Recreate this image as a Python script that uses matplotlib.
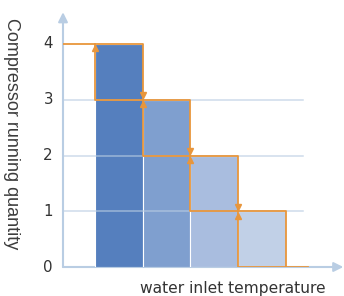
import matplotlib
matplotlib.use("Agg")
import matplotlib.pyplot as plt

# compressor count per temperature band (high -> low)
levels = [4, 3, 2, 1]
bar_colors = ["#557FBE", "#7F9FCF", "#A9BDDF", "#C1D0E7"]
y_ticks = [0, 1, 2, 3, 4]
grid_levels = [1, 2, 3]
ylabel = "Compressor running quantity"
xlabel = "water inlet temperature"

orange = "#E8963C"
axis_blue = "#B9CDE3"
text_col = "#333333"

plt.rcParams["font.family"] = ["DejaVu Sans"]

fig = plt.figure(figsize=(3.44, 2.96), dpi=100)
ax = fig.add_axes([63 / 344, 29 / 296, 1 - 63 / 344, 267 / 296])
ax.set_xlim(0, 281 / 47.75)
ax.set_ylim(0, 267 / 55.75)
ax.axis("off")

x0 = 0.67   # left edge of first bar
w = 1.0
edges = [x0 + i * w for i in range(len(levels) + 1)]

ax.bar(edges[:-1], levels, width=w, align="edge", color=bar_colors,
       edgecolor="white", linewidth=0.8, zorder=2)

# grid lines
for g in grid_levels:
    ax.plot([0, 5.03], [g, g], color=axis_blue, lw=1.1, alpha=0.7, zorder=3)

# descending staircase (arrows down)
dx = [0]
dy = [levels[0]]
for i, lv in enumerate(levels):
    dx += [edges[i + 1], edges[i + 1]]
    dy += [lv, lv - 1]
ax.plot(dx, dy, color=orange, lw=1.3, zorder=4)

# ascending staircase (arrows up)
ux = [5.13]
uy = [0]
for i in range(len(levels) - 1, -1, -1):
    ux += [edges[i], edges[i]]
    uy += [levels[i] - 1, levels[i]]
ax.plot(ux, uy, color=orange, lw=1.3, zorder=4)

off = 0.08
for i, lv in enumerate(levels):
    ax.plot(edges[i], lv - off, marker="^", ms=5, color=orange, zorder=5)
for i, lv in enumerate(levels[:-1]):
    ax.plot(edges[i + 1], lv - 1 + off, marker="v", ms=5, color=orange, zorder=5)

# axes with arrow heads
ax.annotate("", xy=(0, 4.57), xytext=(0, 0),
            arrowprops=dict(arrowstyle="-|>", color=axis_blue, lw=1.5,
                            mutation_scale=14, shrinkA=0, shrinkB=0),
            zorder=1, annotation_clip=False)
ax.annotate("", xy=(5.87, 0), xytext=(0, 0),
            arrowprops=dict(arrowstyle="-|>", color=axis_blue, lw=1.5,
                            mutation_scale=14, shrinkA=0, shrinkB=0),
            zorder=1, annotation_clip=False)

for t in y_ticks:
    ax.text(-0.21, t, str(t), ha="right", va="center", fontsize=10.8,
            color=text_col)

fig.text(11 / 344, 1 - 134 / 296, ylabel, rotation=270, ha="center",
         va="center", fontsize=13, color="#3c3c3c",
         family=["Liberation Sans", "DejaVu Sans"])
fig.text(233 / 344, 1 - 289 / 296, xlabel, ha="center", va="center",
         fontsize=11.2, color=text_col)

fig.savefig("out.png", dpi=100)
